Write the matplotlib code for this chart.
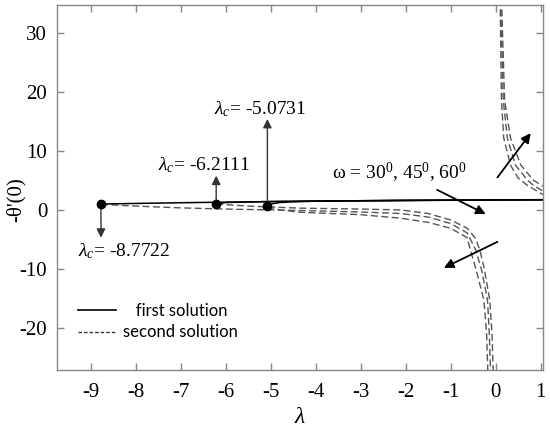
import matplotlib
matplotlib.use("Agg")
import matplotlib.pyplot as plt
from matplotlib.lines import Line2D

plt.rcParams['font.family'] = ['Liberation Serif', 'DejaVu Serif']
plt.rcParams['mathtext.fontset'] = 'custom'
plt.rcParams['mathtext.rm'] = 'Liberation Serif'
plt.rcParams['mathtext.it'] = 'Liberation Serif:italic'
plt.rcParams['axes.unicode_minus'] = False

# ---- data ----
lam_c = [-8.7722, -6.2111, -5.0731]
theta_c = [1.0, 1.05, 0.6]

# first solution (solid), one per critical point
lam_first_a = [-8.7722, -8.0, -7.0, -6.0, -5.0, -4.0, -3.0, -2.0, -1.0, 0.0, 1.05]
th_first_a = [1.0, 1.1, 1.22, 1.32, 1.42, 1.49, 1.55, 1.6, 1.64, 1.68, 1.72]
lam_first_b = [-6.2111, -6.0, -5.5, -5.0, -4.0, -3.0, -2.0, -1.0, 0.0, 1.05]
th_first_b = [1.05, 1.25, 1.35, 1.42, 1.5, 1.56, 1.61, 1.65, 1.69, 1.73]
lam_first_c = [-5.0731, -5.0, -4.8, -4.5, -4.0, -3.0, -2.0, -1.0, 0.0, 1.05]
th_first_c = [0.6, 1.0, 1.25, 1.38, 1.48, 1.56, 1.62, 1.66, 1.7, 1.74]

# second solution, lower branch (dashed)
lam_sec_low_a = [-6.2111, -5.5, -5.0, -4.33, -3.0, -2.11, -1.5, -1.0, -0.63, -0.45, -0.35, -0.25, -0.13, -0.08, -0.05]
th_sec_low_a = [1.0, 0.65, 0.5, 0.3, 0.15, 0.0, -0.6, -1.7, -3.1, -4.8, -6.8, -10.0, -15.3, -21.0, -28.0]
lam_sec_low_b = [-8.7722, -8.0, -7.0, -6.0, -5.0, -4.33, -3.0, -2.11, -1.5, -1.0, -0.63, -0.44, -0.3, -0.18, -0.14, -0.11]
th_sec_low_b = [0.95, 0.65, 0.35, 0.15, 0.0, -0.1, -0.35, -0.6, -1.2, -2.3, -3.9, -6.8, -10.5, -15.3, -21.0, -28.0]
lam_sec_low_c = [-5.0731, -4.8, -4.33, -3.0, -2.11, -1.5, -1.0, -0.63, -0.56, -0.42, -0.26, -0.2, -0.17]
th_sec_low_c = [0.55, 0.0, -0.4, -0.8, -1.4, -2.1, -3.1, -4.7, -6.8, -10.5, -15.3, -21.0, -28.0]

# second solution, upper branch (dashed)
lam_sec_up_a = [0.13, 0.2, 0.33, 0.56, 0.7, 0.85, 1.05]
th_sec_up_a = [36.0, 18.6, 12.2, 7.6, 6.3, 5.0, 4.0]
lam_sec_up_b = [0.11, 0.17, 0.26, 0.44, 0.7, 0.85, 1.05]
th_sec_up_b = [36.0, 18.6, 12.2, 7.6, 5.1, 4.1, 3.2]
lam_sec_up_c = [0.10, 0.13, 0.18, 0.33, 0.5, 0.7, 1.05]
th_sec_up_c = [36.0, 18.6, 12.2, 7.6, 5.4, 4.2, 2.6]

x_ticks = [-9, -8, -7, -6, -5, -4, -3, -2, -1, 0, 1]
y_ticks = [-20, -10, 0, 10, 20, 30]

# ---- figure ----
fig = plt.figure(figsize=(5.5, 4.37), dpi=100)
ax = fig.add_axes([0.1036, 0.1533, 0.8834, 0.8353])

dash_kw = dict(color='#555555', lw=1.0, ls=(0, (5, 2.5)))
for lx, ly in [(lam_sec_low_a, th_sec_low_a), (lam_sec_low_b, th_sec_low_b),
               (lam_sec_low_c, th_sec_low_c), (lam_sec_up_a, th_sec_up_a),
               (lam_sec_up_b, th_sec_up_b), (lam_sec_up_c, th_sec_up_c)]:
    ax.plot(lx, ly, **dash_kw)

for lx, ly in [(lam_first_a, th_first_a), (lam_first_b, th_first_b), (lam_first_c, th_first_c)]:
    ax.plot(lx, ly, color='black', lw=1.1)

ax.plot(lam_c, theta_c, 'o', color='black', ms=6, zorder=5)

ax.set_xlim(-9.75, 1.05)
ax.set_ylim(-27.1, 34.7)
ax.set_xticks(x_ticks)
ax.set_yticks(y_ticks)
ax.tick_params(direction='in', length=5, width=1, color='#888888', top=True, right=True,
               labelsize=15, pad=7)
ax.tick_params(axis='x', pad=9)
for s in ax.spines.values():
    s.set_color('#888888')
    s.set_linewidth(1.0)

ax.set_xlabel(r'$\lambda$', fontsize=17, labelpad=4)
ax.text(-0.085, 0.466, "-θ'(0)", fontsize=15, rotation=90, ha='center', va='center',
        transform=ax.transAxes)

arr_kw = dict(arrowstyle='-|>', mutation_scale=13, lw=1.0, color='#333333', shrinkA=0, shrinkB=0)
# vertical arrows from critical points
ax.annotate('', xy=(lam_c[0], -4.7), xytext=(lam_c[0], theta_c[0]), arrowprops=arr_kw)
ax.annotate('', xy=(lam_c[1], 5.8), xytext=(lam_c[1], theta_c[1]), arrowprops=arr_kw)
ax.annotate('', xy=(lam_c[2], 15.4), xytext=(lam_c[2], theta_c[2]), arrowprops=arr_kw)

fs_ann = 14
ax.text(-9.28, -6.9, r'$\lambda_c$' + '= -8.7722', fontsize=fs_ann, ha='left', va='center')
ax.text(-7.5, 7.5, r'$\lambda_c$' + '= -6.2111', fontsize=fs_ann, ha='left', va='center')
ax.text(-6.25, 17.0, r'$\lambda_c$' + '= -5.0731', fontsize=fs_ann, ha='left', va='center')
ax.text(-3.63, 6.3, r'ω = 30$^{0}$, 45$^{0}$, 60$^{0}$', fontsize=fs_ann, ha='left', va='center')

arr2 = dict(arrowstyle='-|>', mutation_scale=14, lw=1.3, color='black', shrinkA=0, shrinkB=0)
ax.annotate('', xy=(-0.22, -0.7), xytext=(-1.3, 3.4), arrowprops=arr2)
ax.annotate('', xy=(0.78, 13.0), xytext=(0.04, 5.5), arrowprops=arr2)
ax.annotate('', xy=(-1.15, -9.8), xytext=(0.04, -5.4), arrowprops=arr2)

handles = [Line2D([], [], color='black', lw=1.2),
           Line2D([], [], color='#333333', lw=1.0, ls=(0, (2.5, 1.5)))]
leg = ax.legend(handles, ['   first solution', 'second solution'], loc='lower left',
                bbox_to_anchor=(0.012, 0.04), frameon=False, handlelength=2.3,
                handletextpad=0.4, labelspacing=0.35,
                prop={'family': 'Lato', 'size': 12})

fig.savefig('out.png', dpi=100)
